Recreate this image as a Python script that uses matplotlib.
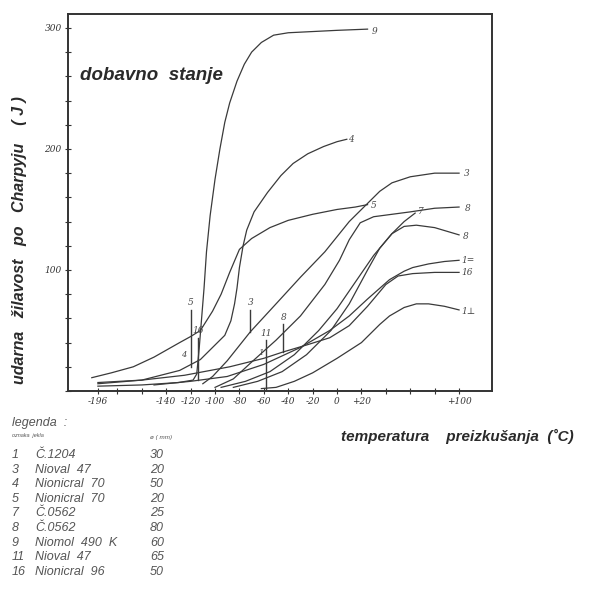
import matplotlib
matplotlib.use("Agg")
import matplotlib.pyplot as plt

W, H = 589, 607

# ---- data ----
c9_x = [-196, -160, -130, -118, -115, -113, -111, -109, -107, -104, -100, -96, -92, -88, -82, -76, -70, -62, -52, -40, -20, 0, 25]
c9_y = [4, 5, 7, 9, 14, 35, 60, 85, 115, 145, 175, 200, 222, 238, 256, 270, 280, 288, 294, 296, 297, 298, 299]

c4_x = [-196, -160, -129, -112, -100, -92, -87, -84, -82, -80, -77, -74, -68, -57, -46, -36, -24, -11, 0, 8]
c4_y = [6, 9, 17, 26, 38, 46, 58, 72, 85, 102, 120, 133, 148, 164, 178, 188, 196, 202, 206, 208]

c5_x = [-201, -185, -167, -150, -129, -120, -112, -102, -95, -88, -80, -70, -55, -40, -20, 0, 15, 25]
c5_y = [11, 15, 20, 28, 40, 45, 50, 66, 80, 98, 117, 126, 135, 141, 146, 150, 152, 154]

c3_x = [-110, -102, -90, -71, -50, -30, -10, 10, 25, 35, 45, 60, 80, 100]
c3_y = [6, 12, 25, 49, 72, 94, 115, 140, 155, 165, 172, 177, 180, 180]

c8a_x = [-100, -85, -71, -50, -30, -10, 2, 10, 19, 30, 45, 60, 80, 100]
c8a_y = [3, 10, 23, 42, 62, 88, 108, 125, 139, 144, 146, 148, 151, 152]

c7_x = [-95, -75, -55, -35, -15, 0, 15, 30, 45, 55, 64]
c7_y = [3, 8, 16, 30, 50, 68, 90, 112, 130, 140, 147]

c8b_x = [-85, -65, -45, -25, -5, 10, 25, 35, 45, 55, 65, 80, 100]
c8b_y = [3, 8, 16, 30, 50, 72, 100, 118, 130, 136, 137, 135, 129]

c1p_x = [-150, -120, -90, -60, -30, -6, 10, 25, 43, 55, 62, 75, 88, 100]
c1p_y = [5, 8, 12, 22, 36, 50, 62, 76, 92, 99, 102, 105, 107, 108]

c16_x = [-196, -160, -125, -88, -60, -45, -25, -6, 10, 25, 40, 50, 62, 80, 100]
c16_y = [7, 9, 13, 20, 27, 32, 38, 44, 54, 70, 88, 95, 97, 98, 98]

c1t_x = [-62, -50, -35, -20, 0, 20, 35, 43, 55, 65, 75, 88, 100]
c1t_y = [2, 3, 8, 15, 27, 40, 55, 62, 69, 72, 72, 70, 67]

curves = [
    (c9_x, c9_y, "9", (28, 297)),
    (c4_x, c4_y, "4", (9, 208)),
    (c3_x, c3_y, "3", (104, 180)),
    (c5_x, c5_y, "5", (28, 153)),
    (c8a_x, c8a_y, "8", (105, 151)),
    (c7_x, c7_y, "7", (66, 148)),
    (c8b_x, c8b_y, "8", (103, 128)),
    (c1p_x, c1p_y, "1=", (102, 108)),
    (c16_x, c16_y, "16", (102, 98)),
    (c1t_x, c1t_y, "1\u22a5", (102, 66)),
]

# transition markers: label, x, y_top, y_bottom
mark_lab = ["5", "16", "3", "11", "8"]
mark_x = [-120, -114, -71, -58, -44]
mark_top = [67, 44, 67, 42, 55]
mark_bot = [20, 9, 49, 1, 32]

xt_vals = [-196, -180, -160, -140, -120, -100, -80, -60, -40, -20, 0, 20, 40, 60, 80, 100]
xt_labels = ["-196", "", "", "-140", "-120", "-100", "-80", "-60", "-40", "-20", "0", "+20", "", "", "", "+100"]

leg_num = ["1", "3", "4", "5", "7", "8", "9", "11", "16"]
leg_name = ["\u010c.1204", "Nioval  47", "Nionicral  70", "Nionicral  70", "\u010c.0562",
            "\u010c.0562", "Niomol  490  K", "Nioval  47", "Nionicral  96"]
leg_d = ["30", "20", "50", "20", "25", "80", "60", "65", "50"]

# ---- figure ----
fig = plt.figure(figsize=(W / 100, H / 100), dpi=100)
ax = fig.add_axes([68 / W, 1 - 391 / H, (492 - 68) / W, (391 - 14) / H])
ax.set_xlim(-220.5, 127)
ax.set_ylim(0, 311.5)

lc = "#3a3a3a"
for xs, ys, lab, (lx, ly) in curves:
    ax.plot(xs, ys, color=lc, lw=0.9)
    ax.text(lx, ly, lab, fontsize=6.5, style="italic", color="#444", va="center", ha="left",
            family="DejaVu Serif")

for lab, x, t, b in zip(mark_lab, mark_x, mark_top, mark_bot):
    ax.plot([x, x], [b, t], color=lc, lw=1.0)
    ax.text(x, t + 2, lab, fontsize=6.5, style="italic", color="#444", ha="center", va="bottom",
            family="DejaVu Serif")
ax.text(-126, 30, "4", fontsize=6, style="italic", color="#444", ha="center", va="center", family="DejaVu Serif")
ax.text(-62, 31, "1", fontsize=6, style="italic", color="#444", ha="center", va="center", family="DejaVu Serif")

for s in ax.spines.values():
    s.set_linewidth(1.4)
    s.set_color("#333")

ax.set_xticks(xt_vals)
ax.set_xticklabels(xt_labels, fontsize=6.5, style="italic", family="DejaVu Serif", color="#333")
ax.set_yticks([100, 200, 300])
ax.set_yticklabels(["100", "200", "300"], fontsize=6.5, style="italic", family="DejaVu Serif", color="#333")
ax.set_yticks(list(range(0, 311, 20)), minor=True)
ax.tick_params(axis="both", which="both", direction="inout", length=5, width=0.8, colors="#333", pad=2)
ax.tick_params(axis="y", which="minor", length=4)

ax.text(-211, 261, "dobavno  stanje", fontsize=13.5, fontweight="bold", style="italic",
        family="Liberation Sans", color="#2a2a2a", va="center", ha="left")

fig.text(20 / W, 1 - 240 / H, "udarna   \u017eilavost   po   Charpyju    ( J )", rotation=90,
         fontsize=11.5, fontweight="bold", style="italic", family="Liberation Sans",
         color="#2a2a2a", ha="center", va="center")
fig.text(457 / W, 1 - 436 / H, "temperatura    preizkušanja  (\u02daC)", fontsize=11,
         fontweight="bold", style="italic", family="Liberation Sans", color="#2a2a2a",
         ha="center", va="center")

# legend block
tc = "#555"
fig.text(12 / W, 1 - 423 / H, "legenda  :", fontsize=9, style="italic", family="Liberation Sans", color=tc, va="center")
fig.text(12 / W, 1 - 436 / H, "oznaka  jekla", fontsize=4, style="italic", family="Liberation Sans", color=tc, va="center")
fig.text(150 / W, 1 - 437 / H, "\u00f8 ( mm)", fontsize=4.5, style="italic", family="Liberation Sans", color=tc, va="center")
row_y0, row_dy = 455, 14.6
for i, (n, nm, d) in enumerate(zip(leg_num, leg_name, leg_d)):
    y = 1 - (row_y0 + i * row_dy) / H
    fig.text(12 / W, y, n, fontsize=9, style="italic", family="Liberation Sans", color=tc, va="center")
    fig.text(35 / W, y, nm, fontsize=9, style="italic", family="Liberation Sans", color=tc, va="center")
    fig.text(150 / W, y, d, fontsize=9, style="italic", family="Liberation Sans", color=tc, va="center")

fig.savefig("out.png", dpi=100)
